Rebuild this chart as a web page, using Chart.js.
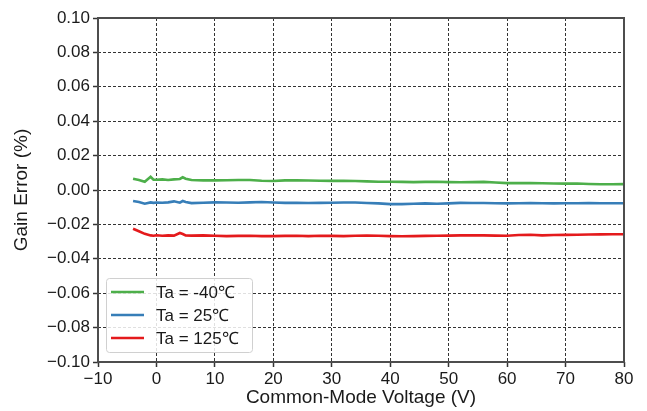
<!DOCTYPE html>
<html>
<head>
<meta charset="utf-8">
<script src="https://cdn.jsdelivr.net/npm/chart.js@4.4.0/dist/chart.umd.min.js"></script>
<style>
  html, body { margin: 0; padding: 0; background: #fff; }
  #wrap { width: 647px; height: 411px; }
</style>
</head>
<body>
<div id="wrap"><canvas id="gain" width="647" height="411"></canvas></div>
<script>
const voltage = [-4, -3, -2, -1, -0.5, 0, 1, 2, 3, 4, 4.5, 5, 6, 8, 10, 12, 14, 16, 18, 20,
  22, 24, 26, 28, 30, 32, 34, 36, 38, 40, 42, 44, 46, 48, 50, 52, 54, 56, 58, 60,
  62, 64, 66, 68, 70, 72, 74, 76, 78, 80];

const ganM40 = [0.0066, 0.0058, 0.0048, 0.0077, 0.0060, 0.0060, 0.0062, 0.0058, 0.0062, 0.0064,
  0.0074, 0.0066, 0.0058, 0.0056, 0.0056, 0.0057, 0.0058, 0.0058, 0.0054, 0.0052,
  0.0056, 0.0056, 0.0055, 0.0054, 0.0053, 0.0054, 0.0052, 0.0050, 0.0048, 0.0048,
  0.0047, 0.0046, 0.0047, 0.0048, 0.0046, 0.0045, 0.0046, 0.0047, 0.0044, 0.0040,
  0.0041, 0.0040, 0.0039, 0.0038, 0.0037, 0.0038, 0.0035, 0.0033, 0.0033, 0.0034];

const gain25 = [-0.0064, -0.0070, -0.0080, -0.0072, -0.0075, -0.0073, -0.0074, -0.0072, -0.0066, -0.0074,
  -0.0064, -0.0070, -0.0076, -0.0074, -0.0072, -0.0073, -0.0074, -0.0072, -0.0070, -0.0073,
  -0.0075, -0.0075, -0.0076, -0.0075, -0.0074, -0.0073, -0.0073, -0.0076, -0.0078, -0.0082,
  -0.0082, -0.0080, -0.0078, -0.0080, -0.0078, -0.0075, -0.0076, -0.0076, -0.0077, -0.0078,
  -0.0077, -0.0076, -0.0077, -0.0078, -0.0077, -0.0077, -0.0076, -0.0077, -0.0077, -0.0077];

const gain125 = [-0.0225, -0.0240, -0.0255, -0.0264, -0.0266, -0.0263, -0.0266, -0.0264, -0.0265, -0.0250,
  -0.0256, -0.0264, -0.0265, -0.0264, -0.0266, -0.0268, -0.0267, -0.0266, -0.0268, -0.0268,
  -0.0267, -0.0266, -0.0268, -0.0266, -0.0267, -0.0268, -0.0266, -0.0265, -0.0266, -0.0268,
  -0.0269, -0.0268, -0.0267, -0.0266, -0.0265, -0.0264, -0.0263, -0.0264, -0.0265, -0.0266,
  -0.0262, -0.0260, -0.0264, -0.0262, -0.0261, -0.0260, -0.0259, -0.0258, -0.0257, -0.0257];

const seriesLabels = ['Ta = -40℃', 'Ta = 25℃', 'Ta = 125℃'];
const seriesColors = ['#4daf4a', '#377eb8', '#e41a1c'];
const seriesValues = [ganM40, gain25, gain125];

const font = 'Liberation Sans';
const minus = (s) => s.replace('-', '\u2212');

// box round the plot area
const frame = {
  id: 'frame',
  afterDatasetsDraw(chart) {
    const { ctx, chartArea: a } = chart;
    ctx.save();
    ctx.strokeStyle = '#4d4d4d';
    ctx.lineWidth = 2;
    ctx.strokeRect(a.left, a.top, a.right - a.left, a.bottom - a.top);
    ctx.restore();
  },
};

// legend box in lower left corner
const boxLegend = {
  id: 'boxLegend',
  afterDraw(chart) {
    const { ctx, chartArea: a } = chart;
    const x = a.left + 8, w = 146, h = 74, y = a.bottom - 10 - h;
    ctx.save();
    ctx.fillStyle = 'rgba(255,255,255,0.85)';
    ctx.strokeStyle = '#d0d0d0';
    ctx.lineWidth = 1;
    ctx.beginPath();
    ctx.roundRect(x + 0.5, y + 0.5, w, h, 3);
    ctx.fill();
    ctx.stroke();
    ctx.font = '17px "' + font + '"';
    ctx.textBaseline = 'middle';
    chart.data.datasets.forEach((ds, i) => {
      const ry = y + 14 + i * 23;
      ctx.strokeStyle = ds.borderColor;
      ctx.lineWidth = 2.5;
      ctx.beginPath();
      ctx.moveTo(x + 5, ry);
      ctx.lineTo(x + 38, ry);
      ctx.stroke();
      ctx.fillStyle = '#1a1a1a';
      ctx.fillText(ds.label, x + 50, ry + 1);
    });
    ctx.restore();
  },
};

const gridOpts = {
  color: '#333',
  lineWidth: 1,
  tickLength: 5,
  tickColor: '#333',
  tickWidth: 1.5,
  tickBorderDash: [],
};

new Chart(document.getElementById('gain'), {
  type: 'line',
  data: {
    datasets: seriesLabels.map((label, i) => ({
      label,
      data: voltage.map((v, j) => ({ x: v, y: seriesValues[i][j] })),
      borderColor: seriesColors[i],
      borderWidth: 2.6,
      pointRadius: 0,
      tension: 0,
      fill: false,
    })),
  },
  options: {
    responsive: false,
    animation: false,
    layout: { padding: { left: 10, right: 23, top: 18, bottom: 2 } },
    plugins: { legend: { display: false }, tooltip: { enabled: false } },
    scales: {
      x: {
        type: 'linear',
        min: -10,
        max: 80,
        afterFit: (s) => { s.height = 47; },
        ticks: {
          stepSize: 10,
          color: '#1a1a1a',
          font: { family: font, size: 17 },
          padding: 2,
          maxRotation: 0,
          callback: (v) => minus(String(v)),
        },
        grid: gridOpts,
        border: { display: false, dash: [3, 2] },
        title: {
          display: true,
          text: 'Common-Mode Voltage (V)',
          color: '#1a1a1a',
          font: { family: font, size: 19 },
          padding: { top: 2, bottom: 0 },
        },
      },
      y: {
        min: -0.1,
        max: 0.1,
        afterFit: (s) => { s.width = 88; },
        ticks: {
          stepSize: 0.02,
          color: '#1a1a1a',
          font: { family: font, size: 17 },
          padding: 3,
          callback: (v) => minus(v.toFixed(2)),
        },
        grid: gridOpts,
        border: { display: false, dash: [3, 2] },
        title: {
          display: true,
          text: 'Gain Error (%)',
          color: '#1a1a1a',
          font: { family: font, size: 19 },
          padding: { top: 0, bottom: 4 },
        },
      },
    },
  },
  plugins: [frame, boxLegend],
});
</script>
</body>
</html>
